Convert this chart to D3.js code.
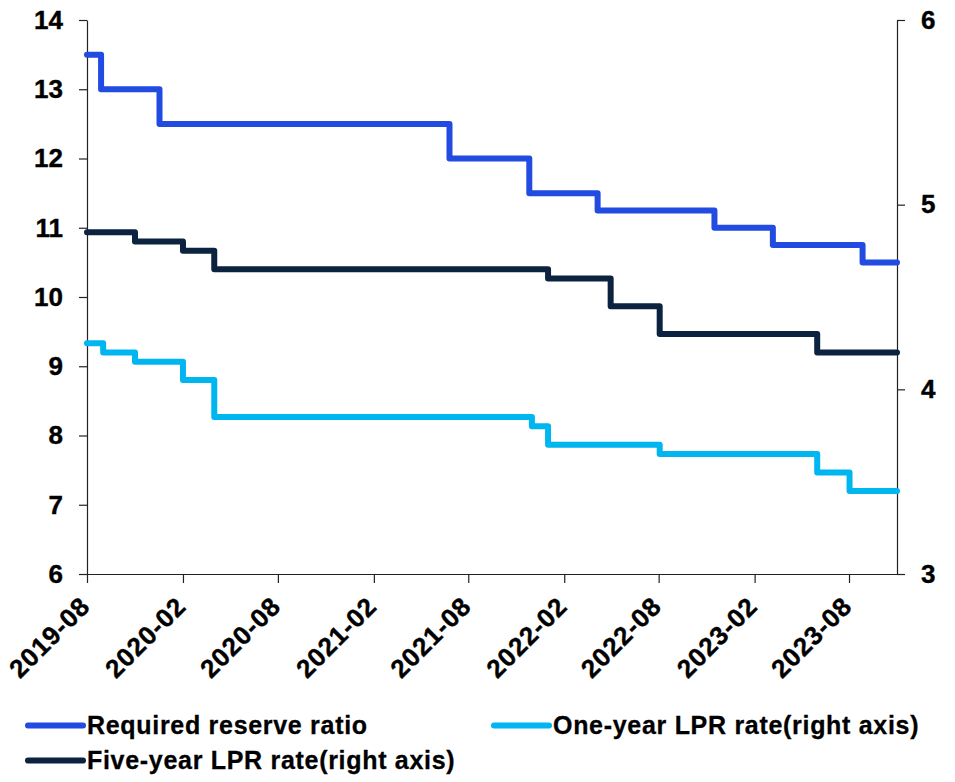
<!DOCTYPE html>
<html>
<head>
<meta charset="utf-8">
<script src="https://cdn.jsdelivr.net/npm/d3@7"></script>
<style>
  html, body { margin: 0; padding: 0; background: #fff; }
  svg { display: block; font-family: "Liberation Sans", Arial, sans-serif; font-weight: bold; }
</style>
</head>
<body>
<svg id="chart" width="955" height="782"></svg>
<script>
// Policy rates: each array lists the change dates and the level from that date on.
const rrrDates   = ["2019-08-20","2019-09-16","2020-01-06","2021-07-15","2021-12-15","2022-04-25","2022-12-05","2023-03-27","2023-09-15","2023-11-20"];
const rrrValues  = [13.5, 13.0, 12.5, 12.0, 11.5, 11.25, 11.0, 10.75, 10.5, 10.5];

const lpr1yDates  = ["2019-08-20","2019-09-20","2019-11-20","2020-02-20","2020-04-20","2021-12-20","2022-01-20","2022-08-22","2023-06-20","2023-08-21","2023-11-20"];
const lpr1yValues = [4.25, 4.20, 4.15, 4.05, 3.85, 3.80, 3.70, 3.65, 3.55, 3.45, 3.45];

const lpr5yDates  = ["2019-08-20","2019-11-20","2020-02-20","2020-04-20","2022-01-20","2022-05-20","2022-08-22","2023-06-20","2023-11-20"];
const lpr5yValues = [4.85, 4.80, 4.75, 4.65, 4.60, 4.45, 4.30, 4.20, 4.20];

const xTickLabels = ["2019-08","2020-02","2020-08","2021-02","2021-08","2022-02","2022-08","2023-02","2023-08"];
const leftTicks   = [6, 7, 8, 9, 10, 11, 12, 13, 14];
const rightTicks  = [3, 4, 5, 6];
const seriesNames = ["Required reserve ratio", "One-year LPR rate(right axis)", "Five-year LPR rate(right axis)"];

const parse = d3.timeParse("%Y-%m-%d");
const startDate = parse("2019-08-20");
const endDate = parse("2023-11-20");

const svg = d3.select("#chart");
const plot = { left: 87, right: 897, top: 20, bottom: 574 };

const x = d3.scaleTime().domain([startDate, endDate]).range([plot.left, plot.right]);
const yL = d3.scaleLinear().domain([6, 14]).range([plot.bottom, plot.top]);
const yR = d3.scaleLinear().domain([3, 6]).range([plot.bottom, plot.top]);

// Tick dates fall every six months on the 20th, starting from the first observation
const xTickDates = xTickLabels.map(s => parse(s + "-20"));

const axisStyle = g => {
  g.select(".domain").attr("stroke", "#222").attr("stroke-width", 1.2);
  g.selectAll(".tick line").attr("stroke", "#222").attr("stroke-width", 1.2);
  g.selectAll(".tick text").attr("fill", "#000").style("font-size", "26px").style("font-weight", "bold")
    .style("font-family", '"Liberation Sans", Arial, sans-serif')
    .attr("stroke", "#000").attr("stroke-width", 0.4);
};

// Left axis
svg.append("g")
  .attr("transform", `translate(${plot.left},0)`)
  .call(d3.axisLeft(yL).tickValues(leftTicks).tickSize(8).tickPadding(16).tickSizeOuter(0).tickFormat(d3.format("d")))
  .call(axisStyle);

// Right axis
svg.append("g")
  .attr("transform", `translate(${plot.right},0)`)
  .call(d3.axisRight(yR).tickValues(rightTicks).tickSize(8).tickPadding(16).tickSizeOuter(0).tickFormat(d3.format("d")))
  .call(axisStyle);

// Bottom axis with slanted month labels
const xAxis = svg.append("g")
  .attr("transform", `translate(0,${plot.bottom})`)
  .call(d3.axisBottom(x).tickValues(xTickDates).tickSize(9).tickSizeOuter(0)
    .tickFormat((d, i) => xTickLabels[i]))
  .call(axisStyle);
xAxis.select(".domain").attr("d", `M${plot.left - 8},0.5H${plot.right + 8}`);
xAxis.selectAll(".tick text")
  .attr("text-anchor", "end")
  .attr("dy", null)
  .attr("y", null)
  .attr("transform", "translate(4,34) rotate(-45)")
  .style("letter-spacing", "0.8px");

// Step lines
const series = [
  { dates: rrrDates,   values: rrrValues,   y: yL, color: "#214BE1" },
  { dates: lpr1yDates, values: lpr1yValues, y: yR, color: "#00B6F1" },
  { dates: lpr5yDates, values: lpr5yValues, y: yR, color: "#0C2340" }
];

series.forEach(s => {
  const pts = s.dates.map((d, i) => ({ date: parse(d), value: s.values[i] }));
  const line = d3.line()
    .x(d => x(d.date))
    .y(d => s.y(d.value))
    .curve(d3.curveStepAfter);
  svg.append("path")
    .datum(pts)
    .attr("d", line)
    .attr("fill", "none")
    .attr("stroke", s.color)
    .attr("stroke-width", 6)
    .attr("stroke-linejoin", "round")
    .attr("stroke-linecap", "round");
});

// Legend
const legendItems = [
  { name: seriesNames[0], color: series[0].color, lx: 28, ty: 734 },
  { name: seriesNames[1], color: series[1].color, lx: 494, ty: 734 },
  { name: seriesNames[2], color: series[2].color, lx: 28, ty: 769 }
];
const legend = svg.append("g");
legendItems.forEach(item => {
  legend.append("line")
    .attr("x1", item.lx).attr("x2", item.lx + 55)
    .attr("y1", item.ty - 8.5).attr("y2", item.ty - 8.5)
    .attr("stroke", item.color).attr("stroke-width", 6).attr("stroke-linecap", "round");
  legend.append("text")
    .attr("x", item.lx + 59).attr("y", item.ty)
    .attr("fill", "#000")
    .attr("stroke", "#000").attr("stroke-width", 0.3)
    .style("font-size", "25px")
    .style("letter-spacing", "0.7px")
    .text(item.name);
});
</script>
</body>
</html>
